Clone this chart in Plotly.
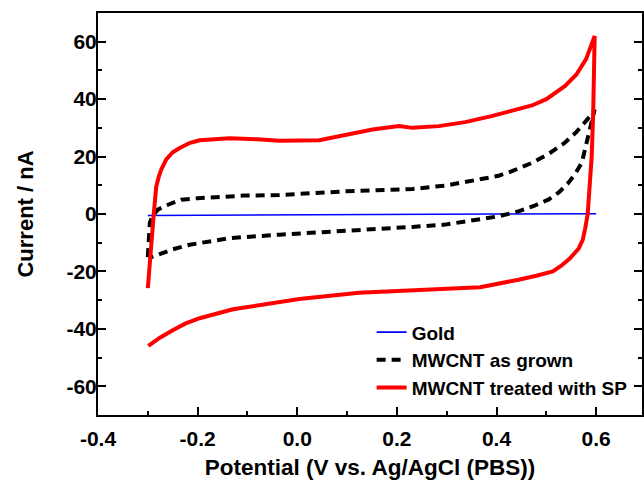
import plotly.graph_objects as go

# Gold electrode
gold_x = [-0.30, -0.20, 0.00, 0.20, 0.40, 0.60]
gold_y = [-0.5, -0.4, -0.25, -0.1, 0.0, 0.1]

# MWCNT as grown (closed CV loop: forward then reverse)
grown_x = [-0.300, -0.299, -0.296, -0.290, -0.280, -0.267, -0.250, -0.233, -0.200, -0.173, -0.107, -0.036,
           0.097, 0.231, 0.297, 0.364, 0.404, 0.431, 0.471, 0.505, 0.537, 0.560, 0.577, 0.590, 0.597,
           0.592, 0.587, 0.580, 0.571, 0.558, 0.544, 0.525, 0.504, 0.475, 0.444, 0.404, 0.364, 0.297,
           0.231, 0.097, -0.036, -0.136, -0.216, -0.250, -0.269, -0.285, -0.299]
grown_y = [-15.0, -9.0, -3.0, -0.5, 1.5, 2.7, 4.0, 5.0, 5.5, 5.8, 6.4, 6.6,
           7.9, 8.7, 9.9, 12.0, 13.3, 14.9, 17.8, 21.0, 24.8, 28.5, 31.8, 34.5, 36.4,
           33.0, 29.4, 23.5, 17.8, 14.0, 10.8, 7.5, 5.0, 2.8, 0.9, -0.8, -2.0, -3.7,
           -4.5, -5.7, -7.2, -8.4, -10.7, -12.3, -13.6, -14.6, -15.4]

# MWCNT treated with SP (closed CV loop)
sp_x = [-0.300, -0.297, -0.293, -0.289, -0.286, -0.283, -0.278, -0.273, -0.263, -0.250, -0.236, -0.215,
        -0.196, -0.160, -0.136, -0.080, -0.036, 0.044, 0.097, 0.151, 0.204, 0.231, 0.284, 0.337,
        0.390, 0.444, 0.471, 0.500, 0.537, 0.560, 0.580, 0.597,
        0.596, 0.594, 0.591, 0.587, 0.583, 0.578, 0.573, 0.565, 0.555, 0.547, 0.530, 0.513,
        0.480, 0.444, 0.367, 0.233, 0.124, 0.004, -0.076, -0.129, -0.196, -0.225, -0.249, -0.275, -0.299]
sp_y = [-25.8, -20.0, -13.6, -2.0, 4.0, 9.6, 13.0, 15.5, 19.0, 21.5, 23.0, 24.8,
        25.7, 26.2, 26.4, 26.0, 25.5, 25.7, 27.7, 29.4, 30.6, 30.0, 30.6, 32.0,
        34.1, 36.4, 37.8, 40.0, 44.5, 48.5, 54.0, 62.0,
        50.0, 35.0, 20.0, 8.0, 0.0, -5.0, -9.0, -12.0, -14.0, -15.5, -18.0, -20.0,
        -21.5, -22.9, -25.5, -26.7, -27.4, -29.6, -31.7, -33.2, -36.3, -38.2, -40.4, -43.0, -45.9]

FONT = "Liberation Sans, Arial, sans-serif"

fig = go.Figure()
fig.add_trace(go.Scatter(x=gold_x, y=gold_y, mode="lines", name="Gold",
                         line=dict(color="#0000ff", width=1.6)))
fig.add_trace(go.Scatter(x=grown_x, y=grown_y, mode="lines", name="MWCNT as grown",
                         line=dict(color="black", width=4, dash="9px,6px")))
fig.add_trace(go.Scatter(x=sp_x, y=sp_y, mode="lines", name="MWCNT treated with SP",
                         line=dict(color="#ff0000", width=4)))

fig.update_layout(
    width=644, height=483,
    margin=dict(l=98, r=0, t=13, b=68),
    paper_bgcolor="white", plot_bgcolor="white",
    font=dict(family=FONT, color="black", size=18, weight="bold"),
    showlegend=True,
    legend=dict(x=0.503, y=0.253, xanchor="left", yanchor="top",
                bgcolor="rgba(0,0,0,0)", font=dict(size=19, weight="bold"),
                tracegroupgap=0),
)
fig.update_xaxes(
    range=[-0.4, 0.692], tickmode="array",
    tickvals=[-0.4, -0.2, 0.0, 0.2, 0.4, 0.6],
    ticktext=["-0.4", "-0.2", "0.0", "0.2", "0.4", "0.6"],
    ticks="inside", ticklen=8, tickwidth=2, tickcolor="black",
    minor=dict(dtick=0.1, ticks="inside", ticklen=4, tickwidth=2, tickcolor="black"),
    showline=True, linecolor="black", linewidth=2, mirror=True,
    showgrid=False, zeroline=False,
    tickfont=dict(size=21, weight="bold"), ticklabelstandoff=4,
    title=dict(text="Potential (V vs. Ag/AgCl (PBS))", font=dict(size=22.5, weight="bold"), standoff=10),
)
fig.update_yaxes(
    range=[-70, 70], tickmode="array",
    tickvals=[-60, -40, -20, 0, 20, 40, 60],
    ticktext=["-60", "-40", "-20", "0", "20", "40", "60"],
    ticks="inside", ticklen=8, tickwidth=2, tickcolor="black",
    minor=dict(dtick=10, ticks="inside", ticklen=4, tickwidth=2, tickcolor="black"),
    showline=True, linecolor="black", linewidth=2, mirror="allticks",
    showgrid=False, zeroline=False,
    tickfont=dict(size=21, weight="bold"), ticklabelshift=0, ticklabelstandoff=-5,
    title=dict(text="Current / nA", font=dict(size=22, weight="bold"), standoff=27),
)

fig.write_html("out.html")
